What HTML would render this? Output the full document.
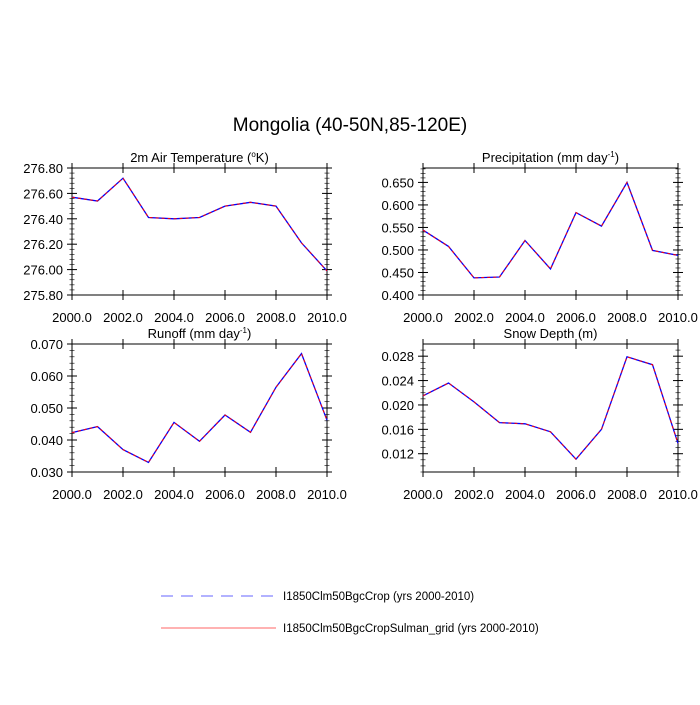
<!DOCTYPE html>
<html><head><meta charset="utf-8"><style>
body{margin:0;background:#fff}
svg text{font-family:"Liberation Sans",sans-serif;fill:#000}
</style></head><body>
<svg id="c" width="700" height="700" xmlns="http://www.w3.org/2000/svg">
<text x="350" y="131" font-size="19" text-anchor="middle">Mongolia (40-50N,85-120E)</text>
<g>
<line x1="161" y1="596" x2="276" y2="596" stroke="#6666ff" stroke-width="1" stroke-dasharray="12,8"/>
<text x="283" y="600" font-size="11.5">I1850Clm50BgcCrop (yrs 2000-2010)</text>
<line x1="161" y1="628" x2="276" y2="628" stroke="#ff6666" stroke-width="1"/>
<text x="283" y="632" font-size="11.5">I1850Clm50BgcCropSulman_grid (yrs 2000-2010)</text>
</g>
</svg>
<script>
const years=[2000,2001,2002,2003,2004,2005,2006,2007,2008,2009,2010];
const xTicks=[2000,2002,2004,2006,2008,2010];
const tempVals=[276.57,276.54,276.72,276.41,276.40,276.41,276.50,276.53,276.50,276.21,275.99];
const precipVals=[0.544,0.508,0.438,0.440,0.521,0.458,0.583,0.553,0.650,0.499,0.488];
const runoffVals=[0.0423,0.0442,0.0370,0.0330,0.0455,0.0396,0.0478,0.0424,0.0565,0.0670,0.0462];
const snowVals=[0.0215,0.0236,0.0205,0.0171,0.0169,0.0156,0.0111,0.0160,0.0279,0.0266,0.0137];
const tempTicks=[275.8,276.0,276.2,276.4,276.6,276.8];
const precipTicks=[0.40,0.45,0.50,0.55,0.60,0.65];
const runoffTicks=[0.03,0.04,0.05,0.06,0.07];
const snowTicks=[0.012,0.016,0.020,0.024,0.028];
const svg=document.getElementById('c');
const NS='http://www.w3.org/2000/svg';
function mk(tag,attrs,parent){const e=document.createElementNS(NS,tag);for(const k in attrs)e.setAttribute(k,attrs[k]);parent.appendChild(e);return e;}
function panel(name,title,sup,vals,ticks,dec,ymin,ymax,minorStep,x0,x1,y0,y1){
  const g=mk('g',{},svg);
  
  
  const sx=v=>x0+(v-2000)/10*(x1-x0);
  const sy=v=>y1-(v-ymin)/(ymax-ymin)*(y1-y0);
  const t=mk('text',{x:(x0+x1)/2,y:y0-6,'font-size':13,'text-anchor':'middle'},g);
  
  
  t.textContent=title;
  if(sup){const ts=mk('tspan',{dy:-5,'font-size':8},t);ts.textContent=sup[0];const t2=mk('tspan',{dy:5},t);t2.textContent=sup[1];}
  for(let v=ymin+1e-9-((ymin%minorStep)+minorStep)%minorStep+minorStep;v<=ymax;v+=minorStep){
    const yy=sy(v);
    mk('line',{x1:x0-2.5,x2:x0+2.5,y1:yy,y2:yy,stroke:'#000','stroke-width':0.6},g);
    mk('line',{x1:x1-2.5,x2:x1+2.5,y1:yy,y2:yy,stroke:'#000','stroke-width':0.6},g);
  }
  ticks.forEach(v=>{
    const yy=sy(v);
    const l=mk('line',{x1:x0-5,x2:x0+5,y1:yy,y2:yy,stroke:'#000','stroke-width':1},g);
    
    
    mk('line',{x1:x1-5,x2:x1+5,y1:yy,y2:yy,stroke:'#000','stroke-width':1},g);
    const tl=mk('text',{x:x0-9,y:yy+5,'font-size':13,'text-anchor':'end'},g);
    
    
    tl.textContent=v.toFixed(dec);
  });
  xTicks.forEach(v=>{
    const xx=sx(v);
    mk('line',{x1:xx,x2:xx,y1:y1-5,y2:y1+5,stroke:'#000','stroke-width':1},g);
    mk('line',{x1:xx,x2:xx,y1:y0-5,y2:y0+5,stroke:'#000','stroke-width':1},g);
    const tl=mk('text',{x:xx,y:y1+27,'font-size':13,'text-anchor':'middle'},g);
    
    
    tl.textContent=v.toFixed(1);
  });
  const fr=mk('rect',{x:x0,y:y0,width:x1-x0,height:y1-y0,fill:'none',stroke:'#000','stroke-width':1},g);
  
  
  const pts=years.map((y,i)=>sx(y).toFixed(1)+','+sy(vals[i]).toFixed(1)).join(' ');
  const a=mk('polyline',{points:pts,fill:'none',stroke:'#0000ff','stroke-width':1.3},g);
  
  
  const b=mk('polyline',{points:pts,fill:'none',stroke:'#ff0000','stroke-width':1,'stroke-dasharray':'3,3'},g);
  
  
}
panel('temperature','2m Air Temperature (',['o','K)'],tempVals,tempTicks,2,275.8,276.8,0.04,72,327,168,295);
panel('precipitation','Precipitation (mm day',['-1',')'],precipVals,precipTicks,3,0.4,0.682,0.01,423,678,168,295);
panel('runoff','Runoff (mm day',['-1',')'],runoffVals,runoffTicks,3,0.03,0.07,0.002,72,327,344,472);
panel('snow-depth','Snow Depth (m)',null,snowVals,snowTicks,3,0.009,0.030,0.001,423,678,344,472);
</script>
</body></html>
